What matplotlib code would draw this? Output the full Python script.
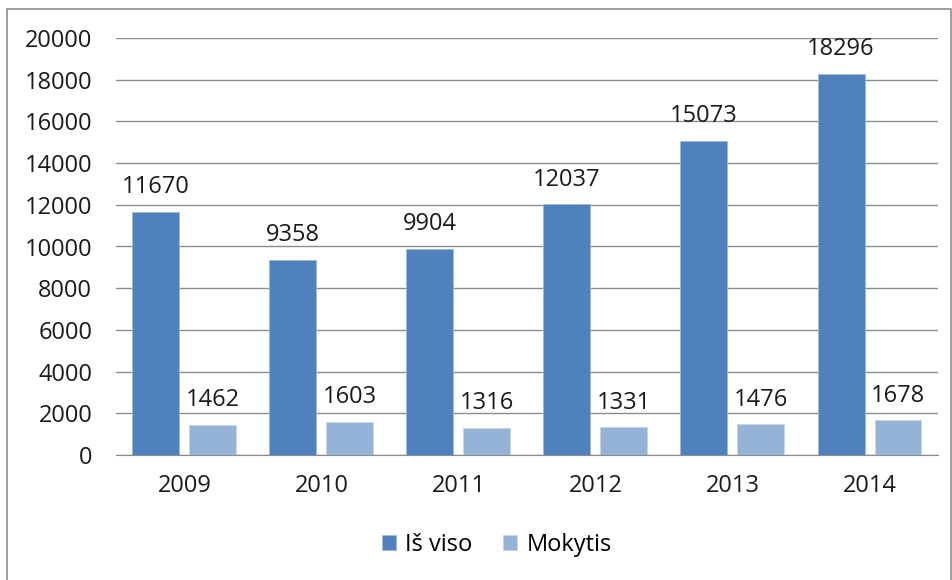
import numpy as np
import matplotlib.pyplot as plt
from matplotlib.patches import Rectangle

years = ['2009', '2010', '2011', '2012', '2013', '2014']
is_viso = [11670, 9358, 9904, 12037, 15073, 18296]
mokytis = [1462, 1603, 1316, 1331, 1476, 1678]

plt.rcParams['font.family'] = ['Open Sans', 'DejaVu Sans']

fig = plt.figure(figsize=(9.52, 5.8), dpi=100)
ax = fig.add_axes([0.1218, 0.2155, 0.8635, 0.719])

x = np.arange(len(years))
w = 0.343
off = 0.208
b1 = ax.bar(x - off, is_viso, w, color='#4F81BD', edgecolor='#9DB9DC', linewidth=0.6, label='Iš viso', zorder=3)
b2 = ax.bar(x + off, mokytis, w, color='#95B3D7', edgecolor='#C4D5EA', linewidth=0.6, label='Mokytis', zorder=3)

# value labels above bars
for bars in (b1, b2):
    for r in bars:
        ax.annotate(f'{int(r.get_height())}', (r.get_x() + r.get_width() / 2, r.get_height()),
                    xytext=(0, 9), textcoords='offset points', ha='center', va='bottom',
                    fontsize=17, color='#1a1a1a')

ax.set_xlim(-0.5, len(years) - 0.5)
ax.set_ylim(0, 20000)
ax.set_yticks(range(0, 20001, 2000))
ax.set_xticks(x)
ax.set_xticklabels(years)
ax.tick_params(axis='both', length=0, labelsize=17, colors='#1a1a1a')
ax.tick_params(axis='y', pad=17)
ax.tick_params(axis='x', pad=14)
ax.grid(axis='y', color='#8c8c8c', linewidth=1, zorder=0)
for s in ['top', 'right', 'left']:
    ax.spines[s].set_visible(False)
ax.spines['bottom'].set_color('#8c8c8c')

fig.legend(handles=[b1, b2], loc='center', bbox_to_anchor=(0.522, 0.06), ncol=2,
           frameon=False, fontsize=17, handlelength=0.6, handleheight=0.6,
           handletextpad=0.4, columnspacing=1.3)

# outer chart frame
fig.patches.append(Rectangle((7 / 952, -0.05), 944 / 952, 1.05 - 9 / 580,
                             transform=fig.transFigure, fill=False,
                             edgecolor='#8c8c8c', linewidth=1.2))

fig.savefig('out.png', dpi=100)
